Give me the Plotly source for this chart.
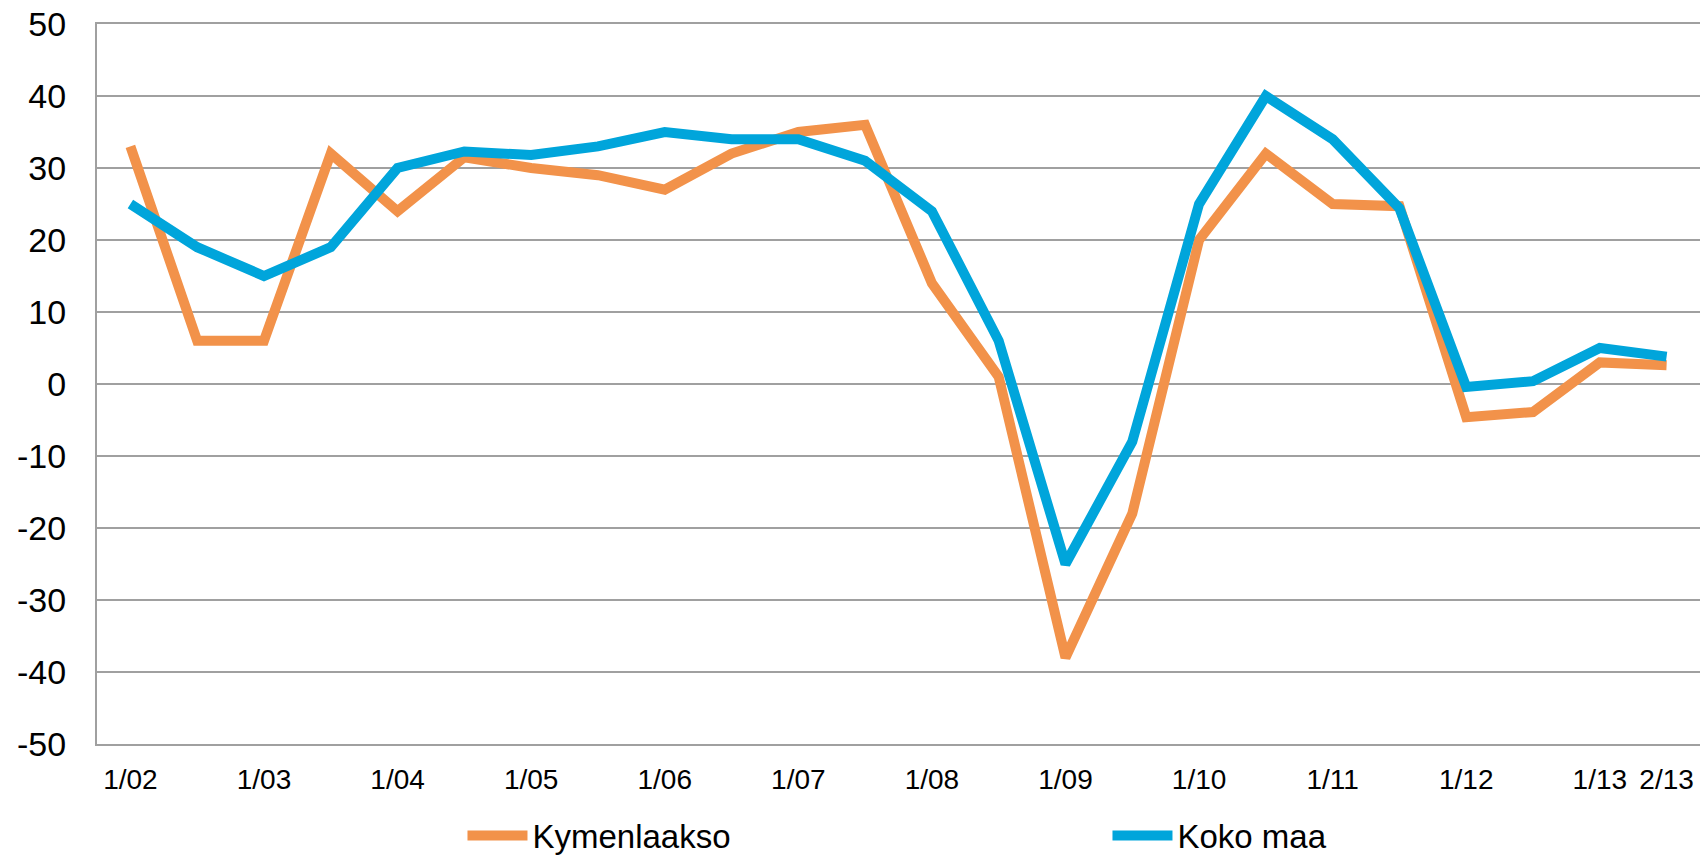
import plotly.graph_objects as go

periods = ["1/02", "2/02", "1/03", "2/03", "1/04", "2/04", "1/05", "2/05",
           "1/06", "2/06", "1/07", "2/07", "1/08", "2/08", "1/09", "2/09",
           "1/10", "2/10", "1/11", "2/11", "1/12", "2/12", "1/13", "2/13"]

kymenlaakso = [33, 6, 6, 32, 24, 31.5, 30, 29, 27, 32, 35, 36,
               14, 1, -38, -18, 20, 32, 25, 24.7, -4.6, -3.9, 3, 2.6]

koko_maa = [25, 19, 15, 19, 30, 32.3, 31.8, 33, 35, 34, 34, 31,
            24, 6, -25, -8, 25, 40, 34, 24.4, -0.4, 0.4, 5, 3.8]

tick_labels = ["1/02", "1/03", "1/04", "1/05", "1/06", "1/07", "1/08",
               "1/09", "1/10", "1/11", "1/12", "1/13", "2/13"]

y_ticks = list(range(-50, 51, 10))

fig = go.Figure()
fig.add_trace(go.Scatter(x=periods, y=kymenlaakso, mode="lines", name="Kymenlaakso",
                         line=dict(color="#F2924A", width=10)))
fig.add_trace(go.Scatter(x=periods, y=koko_maa, mode="lines", name="Koko maa",
                         line=dict(color="#00A5DB", width=10)))

grid_col = "#A0A0A0"
fig.update_layout(
    width=1700, height=847,
    margin=dict(l=89, r=8, t=16, b=111, autoexpand=False),
    paper_bgcolor="white", plot_bgcolor="white",
    font=dict(family="Liberation Sans, Arial, sans-serif", color="#000000"),
    showlegend=True,
    legend=dict(orientation="h", x=0.228, xanchor="left", y=-0.127, yanchor="middle",
                font=dict(size=33, family="Liberation Sans, Arial, sans-serif"),
                itemwidth=60, entrywidth=570, bgcolor="rgba(0,0,0,0)"),
    xaxis=dict(type="category", categoryorder="array", categoryarray=periods,
               range=[-0.5, len(periods) - 0.5],
               tickmode="array", tickvals=tick_labels, ticktext=tick_labels,
               showgrid=False, showline=True, linecolor=grid_col, linewidth=2,
               mirror=True, ticks="", tickfont=dict(size=28), tickangle=0,
               ticklabelstandoff=9, zeroline=False, ticklabeloverflow="allow"),
    yaxis=dict(range=[-50, 50], tickmode="array", tickvals=y_ticks,
               ticktext=[str(v) for v in y_ticks],
               showgrid=True, gridcolor=grid_col, gridwidth=2,
               showline=True, linecolor=grid_col, linewidth=2, mirror=True,
               zeroline=False, ticks="", tickfont=dict(size=34),
               ticklabelstandoff=22, ticklabeloverflow="allow"),
)

fig.write_html("out.html")
